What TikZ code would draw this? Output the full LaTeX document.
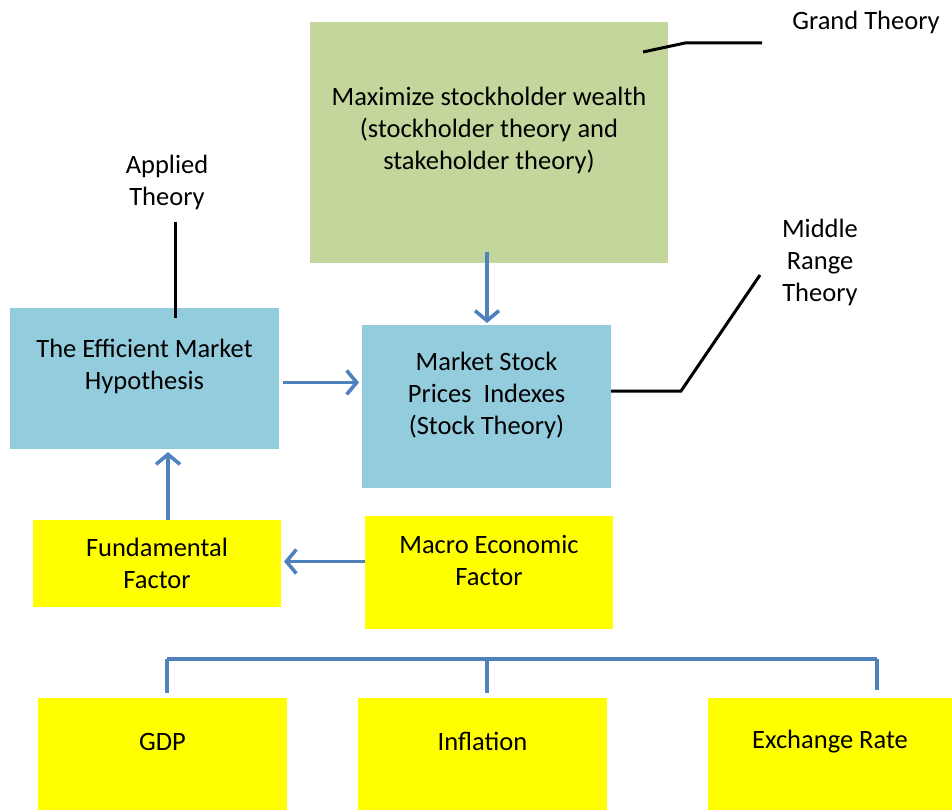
\documentclass[tikz,border=0pt]{standalone}
\usepackage{fontspec}
\setmainfont{Carlito}
\usepackage{tikz}
\usetikzlibrary{arrows.meta}
\usepackage{xcolor}

\definecolor{grandgreen}{HTML}{C3D69B}
\definecolor{midblue}{HTML}{93CDDD}
\definecolor{factoryellow}{HTML}{FFFF00}
\definecolor{flowblue}{HTML}{4F81BD}

\tikzset{
	box/.style={inner sep=0pt,outer sep=0pt},
	boxtext/.style={align=center,yshift=12.5pt},
	flow/.style={draw=flowblue,line width=3.6pt,-{Straight Barb[length=10pt,width=24pt]}},
	link/.style={draw=flowblue,line width=3.6pt},
	tie/.style={draw=black,line width=3pt}
}

\begin{document}
\begin{tikzpicture}[x=1pt,y=-1pt,font=\fontsize{26.5}{32}\selectfont]
		
		\useasboundingbox (0,0) rectangle (952,810);
		
		\node[box,fill=grandgreen,minimum width=358,minimum height=241,label={[boxtext]center:{Maximize stockholder wealth\\(stockholder theory and\\stakeholder theory)}}] (wealth) at (489,142.5) {};
		
		\node[box,fill=midblue,minimum width=269,minimum height=141,label={[boxtext]center:{The Efficient Market\\Hypothesis}}] (emh) at (144.5,378.5) {};
		
		\node[box,fill=midblue,minimum width=249,minimum height=163,label={[boxtext,yshift=-1pt]center:{Market Stock\\Prices\ \ Indexes\\(Stock Theory)}}] (market) at (486.5,406.5) {};
		
		\node[box,fill=factoryellow,minimum width=248,minimum height=87,label={[boxtext,yshift=-12.5pt]center:{Fundamental\\Factor}}] (fund) at (157,563.5) {};
		
		\node[box,fill=factoryellow,minimum width=248,minimum height=113,label={[boxtext]center:{Macro Economic\\Factor}}] (macro) at (489,572.5) {};
		
		\node[box,fill=factoryellow,minimum width=249,minimum height=112,label={[boxtext]center:GDP}] (gdp) at (162.5,754) {};
		\node[box,fill=factoryellow,minimum width=249,minimum height=112,label={[boxtext]center:Inflation}] (inflation) at (482.5,754) {};
		\node[box,fill=factoryellow,minimum width=244,minimum height=112,label={[boxtext]center:Exchange Rate}] (xrate) at (830,754) {};
		
		\node[align=center] (grand) at (866,22) {Grand Theory};
		\node[align=center] (applied) at (167,182) {Applied\\Theory};
		\node[align=center] (middle) at (820,262) {Middle\\Range\\Theory};
		
		
		\draw[flow] ([xshift=-2pt,yshift=11pt]wealth.south) coordinate (w1) -- ([yshift=2pt]w1 |- market.north);
		\draw[flow] ([xshift=4pt,yshift=-4pt]emh.east) coordinate (e1) -- ([xshift=-3pt]e1 -| market.west);
		\draw[flow] ([xshift=11pt]fund.north) coordinate (f1) -- ([yshift=-3pt]f1 |- emh.south);
		\draw[flow] ([yshift=11pt]macro.west) coordinate (m1) -- ([xshift=3pt]m1 -| fund.east);
		
		\coordinate (busl) at (167,659);
		\coordinate (busm) at (487,659);
		\coordinate (busr) at (877,659);
		\draw[link] (busl) -- (busr);
		\draw[link,shorten >=5pt] (busl) -- (busl |- gdp.north);
		\draw[link,shorten >=5pt] (busm) -- (busm |- inflation.north);
		\draw[link,shorten >=8pt] (busr) -- (busr |- xrate.north);
		
		
		\coordinate (g1) at (685,43);
		\coordinate (g2) at (762,43);
		\draw[tie] ([xshift=-25pt,yshift=-30pt]wealth.north east) -- (g1) -- (g2);
		
		\draw[tie] ([xshift=30.5pt,yshift=-10pt]emh.north) -- ++(0,-96);
		
		\coordinate (r1) at (681,391);
		\coordinate (r2) at (760,275);
		\draw[tie] ([yshift=15.5pt]market.east) -- (r1) -- (r2);
		
	\end{tikzpicture}
\end{document}
